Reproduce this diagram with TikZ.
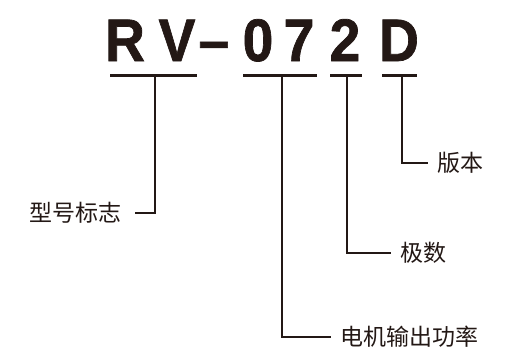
\documentclass[tikz,border=0pt]{standalone}
\usepackage{fontspec}
\setmainfont{Liberation Sans}
\newfontfamily\heavy[FakeBold=1.2]{Liberation Sans Bold}
\newfontfamily\cjk{Noto Sans CJK SC}
\definecolor{ink}{HTML}{231815}
\tikzset{
  glyph/.style={anchor=base, inner sep=0pt, text=ink, xscale=0.92, font=\heavy\fontsize{60}{66}\selectfont},
  tag/.style={inner sep=0pt, outer xsep=9pt, text=ink, font=\cjk\fontsize{23}{26}\selectfont},
  bar/.style={draw=ink, line width=3pt},
  lead/.style={draw=ink, line width=1.6pt}
}
\begin{document}
\begin{tikzpicture}[x=1pt, y=-1pt]
		\useasboundingbox (0,0) rectangle (518,349);
		% Model code letters
		\node[glyph] (R) at (125,61) {R};
		\node[glyph] (V) at (177,61) {V};
		\node[glyph] (dash) at (214,61) {–};
		\node[glyph] (d0) at (258,61) {0};
		\node[glyph] (d7) at (299,61) {7};
		\node[glyph] (d2) at (345,61) {2};
		\node[glyph] (D) at (399,61) {D};

		% Underlines and tick points
		\coordinate (tRV) at (155,75);
		\coordinate (t072) at (282,75);
		\coordinate (t2) at (347,75);
		\coordinate (tD) at (402,75);
		\draw[bar] (110,75) -- (197,75);
		\draw[bar] (243,75) -- (317,75);
		\draw[bar] (330,75) -- (362,75);
		\draw[bar] (382,75) -- (417,75);

		% Labels
		\node[tag, outer xsep=14pt, anchor=east] (model) at (135,213) {型号标志};
		\node[tag, anchor=west] (ver) at (428,163) {版本};
		\node[tag, anchor=west] (poles) at (391,253) {极数};
		\node[tag, anchor=west] (power) at (331,337) {电机输出功率};

		% Leaders
		\draw[lead] (tRV) |- (model.east);
		\draw[lead] (tD) |- (ver.west);
		\draw[lead] (t2) |- (poles.west);
		\draw[lead] (t072) |- (power.west);
	\end{tikzpicture}
\end{document}
